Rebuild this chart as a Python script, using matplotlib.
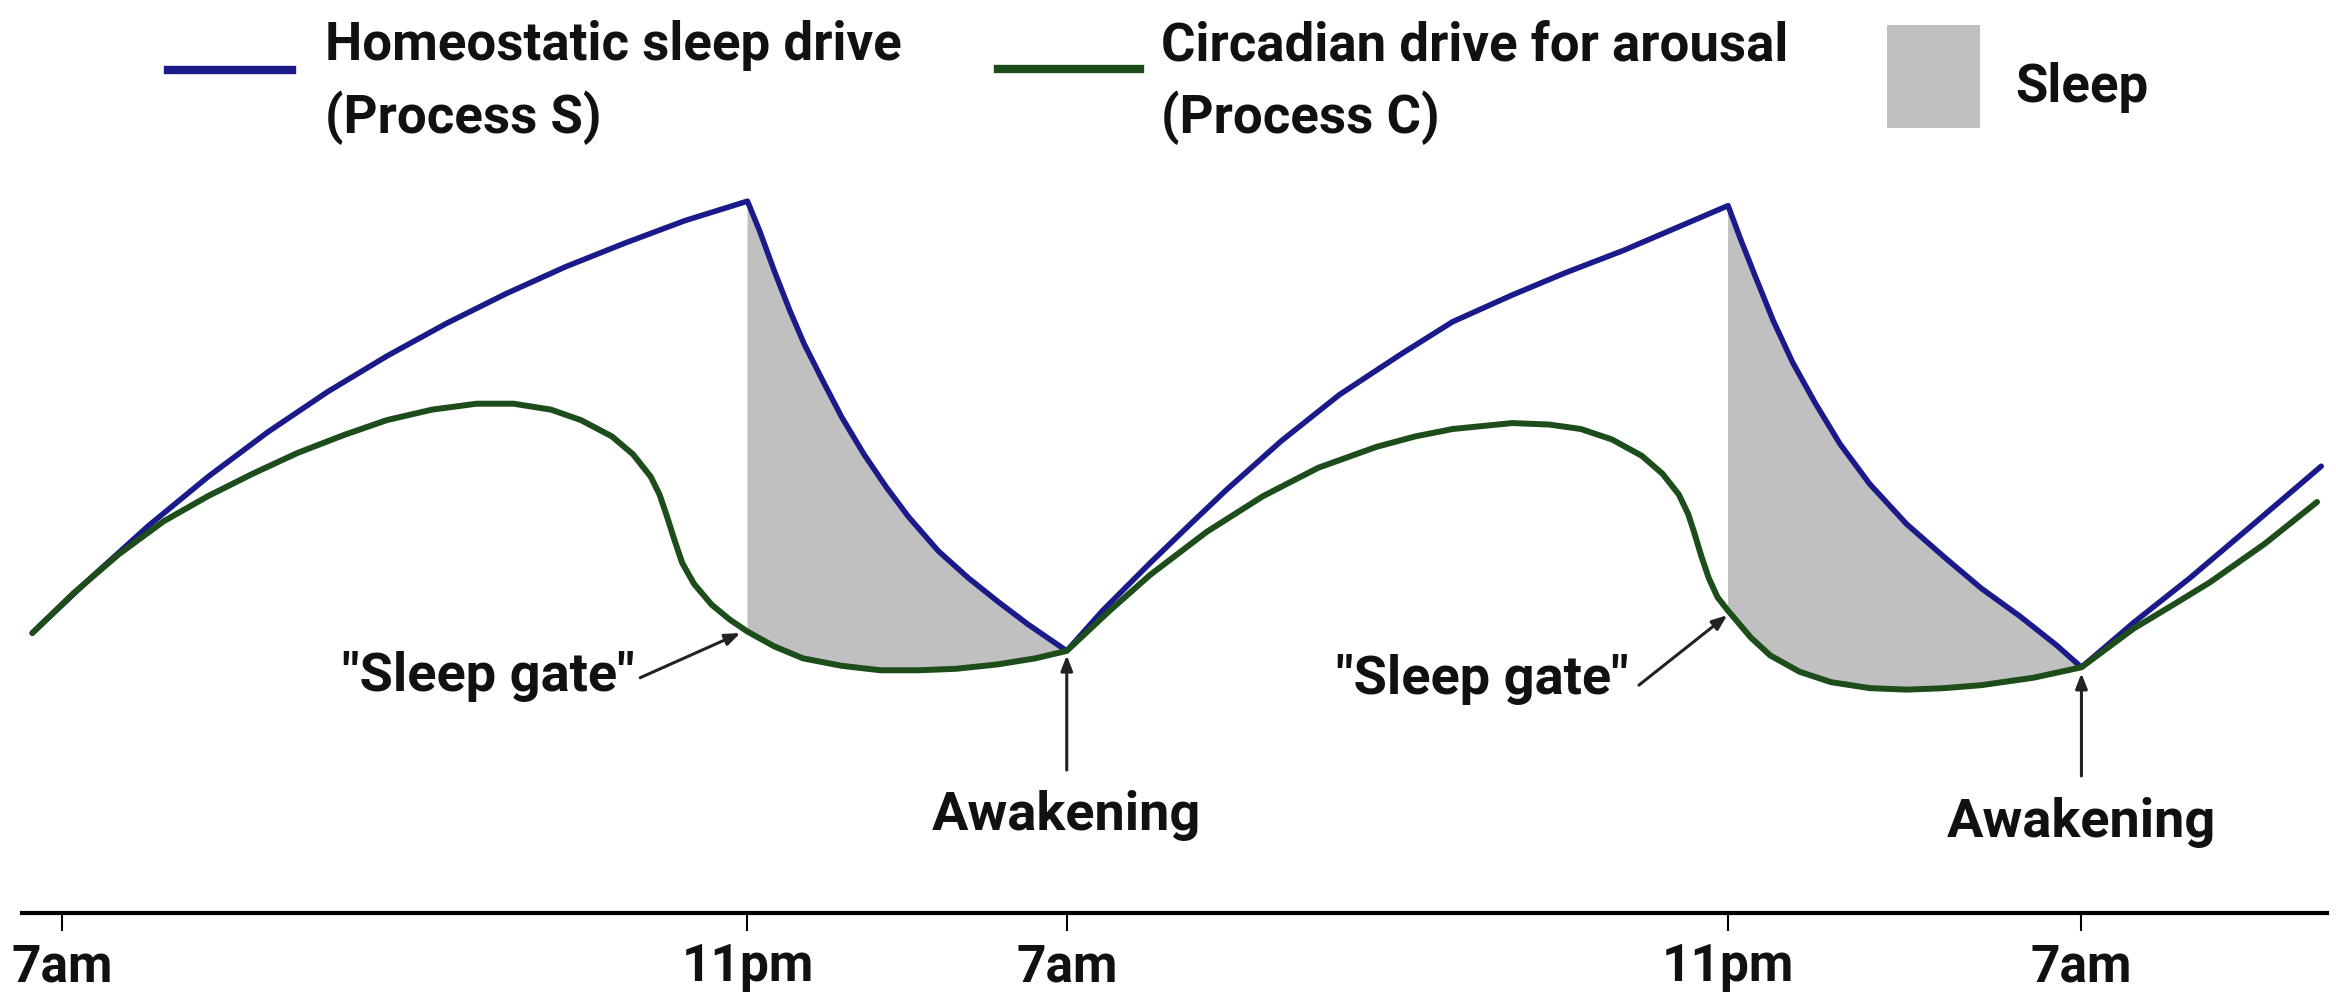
import numpy as np
import matplotlib
matplotlib.use("Agg")
import matplotlib.pyplot as plt
from matplotlib import font_manager
from matplotlib.lines import Line2D
from matplotlib.patches import Rectangle

# hours after the first 7am
tick_pos = [0, 16.29, 23.88, 39.60, 48.0]
tick_labels = ["7am", "11pm", "7am", "11pm", "7am"]

# Process S (homeostatic sleep drive), arbitrary level
s_hours = [-0.71, 0.64, 2.05, 3.47, 4.89, 6.31, 7.72, 9.14, 10.56, 11.97, 13.39, 14.81, 16.29,
           16.58, 16.93, 17.29, 17.64, 18.07, 18.53, 19.06, 19.59, 20.12, 20.83, 21.54, 22.25, 22.95, 23.88,
           24.73, 25.86, 26.85, 27.67, 28.98, 30.36, 31.81, 33.05, 34.47, 35.74, 37.12, 38.36, 39.60,
           39.89, 40.24, 40.67, 41.13, 41.66, 42.26, 42.97, 43.85, 44.74, 45.62, 46.55, 47.40, 48.00,
           49.24, 50.58, 52.00, 53.70]
s_level = [188, 224, 260, 293, 323, 350, 374, 396, 416, 434, 450, 465, 478,
           458, 431, 405, 382, 358, 333, 308, 286, 266, 243, 225, 209, 194, 176,
           203, 235, 262, 284, 317, 348, 375, 397, 415, 430, 445, 460, 475,
           453, 428, 398, 370, 343, 315, 288, 261, 239, 218, 199, 180, 165,
           195, 225, 259, 300]

# Process C (circadian drive for arousal)
c_hours = [-0.71, 0.28, 1.35, 2.41, 3.47, 4.53, 5.60, 6.70, 7.72, 8.79, 9.85, 10.73, 11.62, 12.33,
           13.07, 13.57, 13.99, 14.20, 14.38, 14.56, 14.74, 15.02, 15.44, 15.87, 16.29,
           16.93, 17.61, 18.53, 19.45, 20.37, 21.25, 22.25, 23.13, 23.88,
           24.90, 25.86, 27.21, 28.55, 29.86, 31.24, 32.16, 33.05, 34.47, 35.35, 36.10, 36.84,
           37.55, 38.04, 38.43, 38.65, 38.79, 38.96, 39.14, 39.35, 39.60,
           40.14, 40.60, 41.30, 42.05, 42.97, 43.85, 44.74, 45.62, 46.86, 48.00,
           49.24, 50.24, 51.05, 52.36, 53.60]
c_level = [188, 215, 241, 263, 280, 295, 309, 321, 331, 338, 342, 342, 338, 331,
           320, 308, 293, 281, 266, 250, 235, 221, 207, 197, 189,
           179, 171, 166, 163, 163, 164, 167, 171, 176,
           203, 227, 256, 280, 299, 313, 320, 325, 329, 328, 325, 318,
           307, 295, 281, 268, 256, 240, 225, 212, 203,
           185, 173, 162, 155, 151, 150, 151, 153, 158, 165,
           191, 208, 222, 248, 276]

sleep_start = [16.29, 39.60]
sleep_end = [23.88, 48.00]

blue = "#1a1a8a"
green = "#1d4d1a"
grey = "#c0c0c0"
ink = "#111111"

names = {f.name for f in font_manager.fontManager.ttflist}
tick_font = "Liberation Sans Narrow" if "Liberation Sans Narrow" in names else "Roboto"
tick_size = 43 if tick_font == "Liberation Sans Narrow" else 37
txt_font = "Roboto"

fig = plt.figure(figsize=(23.36, 10.01), dpi=100)
ax = fig.add_axes([0.0094, 0.0879, 0.9868, 0.7632])

sx, sy = np.array(s_hours), np.array(s_level)
cx, cy = np.array(c_hours), np.array(c_level)

# sleep shading between S (top) and C (bottom)
for a, b in zip(sleep_start, sleep_end):
    ms = (sx >= a) & (sx <= b)
    mc = (cx >= a) & (cx <= b)
    ax.fill(np.concatenate([sx[ms], cx[mc][::-1]]),
            np.concatenate([sy[ms], cy[mc][::-1]]),
            color=grey, lw=0, zorder=1)

ax.plot(sx, sy, color=blue, lw=4.0, solid_joinstyle="round", solid_capstyle="round", zorder=3)
ax.plot(cx, cy, color=green, lw=4.3, solid_joinstyle="round", solid_capstyle="round", zorder=4)

ax.set_xlim(-0.956, 53.84)
ax.set_ylim(0, 513)

for s in ["left", "top", "right"]:
    ax.spines[s].set_visible(False)
ax.spines["bottom"].set_linewidth(3)
ax.set_yticks([])
ax.set_xticks(tick_pos)
ax.set_xticklabels(tick_labels, fontfamily=tick_font, fontweight="bold", fontsize=tick_size, color=ink)
ax.tick_params(axis="x", length=13, width=1.5, pad=8)

# annotations
arr = dict(arrowstyle="-|>,head_length=0.9,head_width=0.35", color="#222222", lw=2.2,
           shrinkA=0, shrinkB=0)
lab = dict(fontfamily=txt_font, fontweight="bold", fontsize=39, color=ink)
ax.text(13.60, 149, '"Sleep gate"', ha="right", va="baseline", **lab)
ax.annotate("", xy=(16.12, 188), xytext=(13.74, 158), arrowprops=arr)
ax.text(37.23, 147, '"Sleep gate"', ha="right", va="baseline", **lab)
ax.annotate("", xy=(39.58, 200), xytext=(37.48, 153), arrowprops=arr)

ax.text(23.88, 56, "Awakening", ha="center", va="baseline", **lab)
ax.annotate("", xy=(23.88, 173), xytext=(23.88, 96), arrowprops=arr)
ax.text(48.0, 51, "Awakening", ha="center", va="baseline", **lab)
ax.annotate("", xy=(48.0, 161), xytext=(48.0, 92), arrowprops=arr)

# legend drawn by hand across the top
leg = dict(fontfamily=txt_font, fontweight="bold", fontsize=38, va="baseline", ha="left", color=ink)
fig.add_artist(Line2D([0.0719, 0.125], [0.930, 0.930], color=blue, lw=6, transform=fig.transFigure))
fig.text(0.139, 0.940, "Homeostatic sleep drive", **leg)
fig.text(0.139, 0.867, "(Process S)", **leg)
fig.add_artist(Line2D([0.4272, 0.488], [0.931, 0.931], color=green, lw=6, transform=fig.transFigure))
fig.text(0.497, 0.940, "Circadian drive for arousal", **leg)
fig.text(0.497, 0.867, "(Process C)", **leg)
fig.add_artist(Rectangle((0.8078, 0.8721), 0.0398, 0.1029, color=grey, lw=0, transform=fig.transFigure))
fig.text(0.8626, 0.898, "Sleep", **leg)

fig.savefig("out.png", dpi=100)
